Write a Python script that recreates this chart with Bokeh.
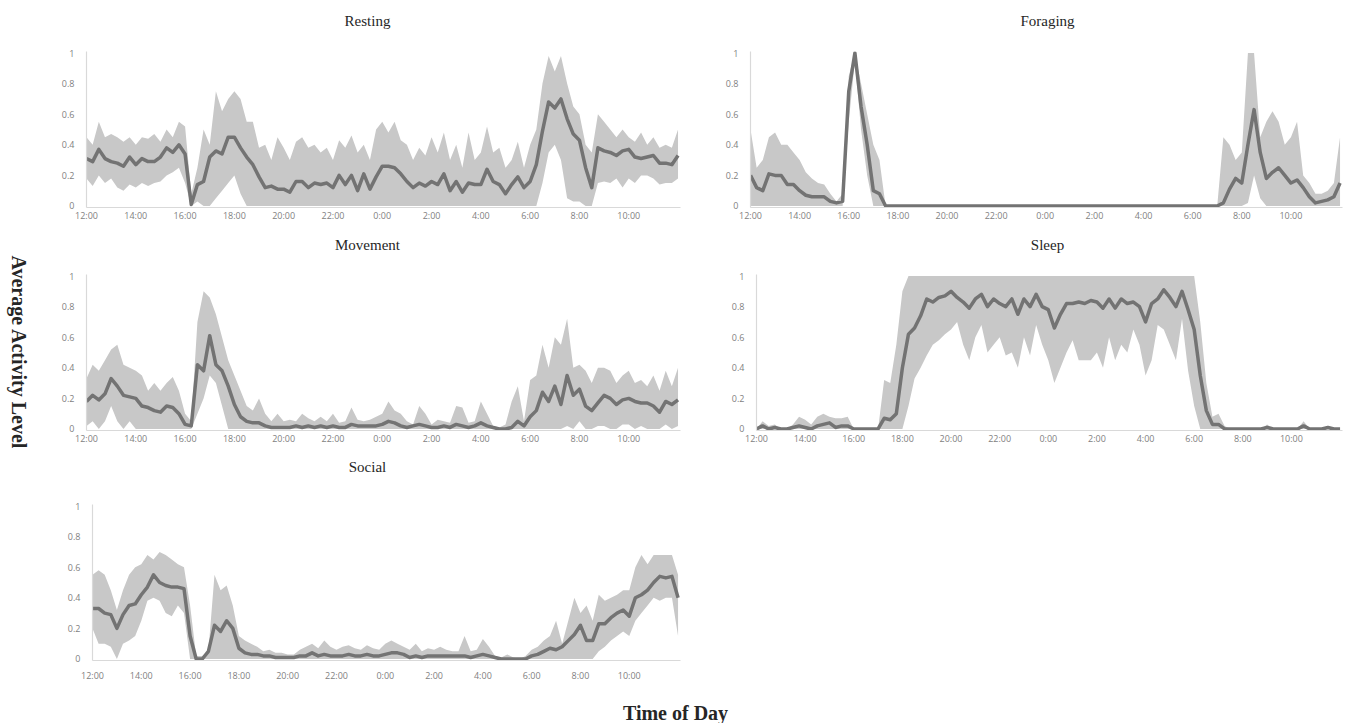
from math import pi
from bokeh.plotting import figure
from bokeh.layouts import row, column
from bokeh.models import FixedTicker, Range1d
from bokeh.core.properties import value
from bokeh.embed import file_html
from bokeh.resources import INLINE

# sampling grid: hours after 12:00 (every 15 minutes)
TIME_H = [i * 0.25 for i in range(97)]

X_TICKS = [0, 2, 4, 6, 8, 10, 12, 14, 16, 18, 20, 22]
X_TICK_LABELS = ["12:00", "14:00", "16:00", "18:00", "20:00", "22:00",
                 "0:00", "2:00", "4:00", "6:00", "8:00", "10:00"]
Y_TICKS = [0, 0.2, 0.4, 0.6, 0.8, 1]
Y_TICK_LABELS = ["0", "0.2", "0.4", "0.6", "0.8", "1"]

PANEL_TITLES = ["Resting", "Foraging", "Movement", "Sleep", "Social"]

RESTING_MEAN = [
    0.31, 0.29, 0.37, 0.31, 0.29, 0.28, 0.26, 0.32, 0.27, 0.31, 0.29, 0.29,
    0.32, 0.38, 0.35, 0.40, 0.34, 0.01, 0.14, 0.16, 0.32, 0.36, 0.34, 0.45,
    0.45, 0.38, 0.32, 0.27, 0.19, 0.12, 0.13, 0.11, 0.11, 0.09, 0.16, 0.16,
    0.12, 0.15, 0.14, 0.15, 0.12, 0.20, 0.14, 0.20, 0.10, 0.21, 0.11, 0.19,
    0.26, 0.26, 0.25, 0.21, 0.16, 0.12, 0.15, 0.13, 0.16, 0.14, 0.21, 0.10,
    0.16, 0.09, 0.15, 0.14, 0.14, 0.24, 0.16, 0.14, 0.08, 0.14, 0.19, 0.12,
    0.16, 0.27, 0.49, 0.68, 0.64, 0.70, 0.57, 0.47, 0.43, 0.25, 0.12, 0.38,
    0.36, 0.35, 0.33, 0.36, 0.37, 0.32, 0.31, 0.32, 0.33, 0.28, 0.28, 0.27,
    0.33]
RESTING_UP = [
    0.45, 0.40, 0.55, 0.45, 0.47, 0.45, 0.42, 0.45, 0.40, 0.45, 0.44, 0.47,
    0.42, 0.50, 0.45, 0.55, 0.52, 0.08, 0.25, 0.50, 0.40, 0.75, 0.62, 0.70,
    0.75, 0.70, 0.55, 0.55, 0.38, 0.40, 0.30, 0.45, 0.38, 0.30, 0.42, 0.45,
    0.38, 0.40, 0.35, 0.38, 0.30, 0.43, 0.38, 0.46, 0.35, 0.40, 0.30, 0.50,
    0.55, 0.48, 0.55, 0.43, 0.40, 0.30, 0.38, 0.33, 0.45, 0.35, 0.48, 0.30,
    0.40, 0.25, 0.48, 0.30, 0.35, 0.52, 0.35, 0.38, 0.25, 0.30, 0.42, 0.25,
    0.40, 0.50, 0.80, 0.98, 0.88, 0.98, 0.80, 0.65, 0.60, 0.40, 0.35, 0.60,
    0.55, 0.50, 0.45, 0.50, 0.45, 0.42, 0.48, 0.40, 0.45, 0.38, 0.40, 0.38,
    0.50]
RESTING_LO = [
    0.18, 0.13, 0.20, 0.15, 0.18, 0.12, 0.10, 0.14, 0.12, 0.15, 0.13, 0.15,
    0.16, 0.20, 0.22, 0.25, 0.15, 0.00, 0.03, 0.00, 0.00, 0.05, 0.10, 0.15,
    0.20, 0.08, 0.00, 0.00, 0.00, 0.00, 0.00, 0.00, 0.00, 0.00, 0.00, 0.00,
    0.00, 0.00, 0.00, 0.00, 0.00, 0.00, 0.00, 0.00, 0.00, 0.00, 0.00, 0.00,
    0.00, 0.00, 0.00, 0.00, 0.00, 0.00, 0.00, 0.00, 0.00, 0.00, 0.00, 0.00,
    0.00, 0.00, 0.00, 0.00, 0.00, 0.00, 0.00, 0.00, 0.00, 0.00, 0.00, 0.00,
    0.00, 0.00, 0.15, 0.35, 0.40, 0.30, 0.05, 0.03, 0.03, 0.00, 0.00, 0.15,
    0.16, 0.15, 0.18, 0.12, 0.18, 0.15, 0.20, 0.20, 0.18, 0.14, 0.15, 0.15,
    0.18]

FORAGING_MEAN = [
    0.20, 0.12, 0.10, 0.21, 0.20, 0.20, 0.14, 0.14, 0.10, 0.07, 0.06, 0.06,
    0.06, 0.03, 0.02, 0.03, 0.75, 1.00, 0.65, 0.40, 0.10, 0.08, 0.00, 0.00,
    0.00, 0.00, 0.00, 0.00, 0.00, 0.00, 0.00, 0.00, 0.00, 0.00, 0.00, 0.00,
    0.00, 0.00, 0.00, 0.00, 0.00, 0.00, 0.00, 0.00, 0.00, 0.00, 0.00, 0.00,
    0.00, 0.00, 0.00, 0.00, 0.00, 0.00, 0.00, 0.00, 0.00, 0.00, 0.00, 0.00,
    0.00, 0.00, 0.00, 0.00, 0.00, 0.00, 0.00, 0.00, 0.00, 0.00, 0.00, 0.00,
    0.00, 0.00, 0.00, 0.00, 0.00, 0.02, 0.11, 0.18, 0.15, 0.40, 0.63, 0.35,
    0.18, 0.22, 0.25, 0.20, 0.15, 0.17, 0.12, 0.06, 0.02, 0.03, 0.04, 0.06,
    0.15]
FORAGING_UP = [
    0.50, 0.25, 0.30, 0.45, 0.48, 0.40, 0.40, 0.35, 0.30, 0.22, 0.18, 0.15,
    0.14, 0.08, 0.03, 0.08, 0.85, 1.00, 0.80, 0.60, 0.40, 0.30, 0.00, 0.00,
    0.00, 0.00, 0.00, 0.00, 0.00, 0.00, 0.00, 0.00, 0.00, 0.00, 0.00, 0.00,
    0.00, 0.00, 0.00, 0.00, 0.00, 0.00, 0.00, 0.00, 0.00, 0.00, 0.00, 0.00,
    0.00, 0.00, 0.00, 0.00, 0.00, 0.00, 0.00, 0.00, 0.00, 0.00, 0.00, 0.00,
    0.00, 0.00, 0.00, 0.00, 0.00, 0.00, 0.00, 0.00, 0.00, 0.00, 0.00, 0.00,
    0.00, 0.00, 0.00, 0.00, 0.00, 0.45, 0.40, 0.30, 0.35, 1.00, 1.00, 0.45,
    0.55, 0.62, 0.55, 0.40, 0.45, 0.55, 0.20, 0.15, 0.08, 0.08, 0.10, 0.15,
    0.45]
FORAGING_LO = [
    0.00, 0.00, 0.00, 0.00, 0.00, 0.00, 0.00, 0.00, 0.00, 0.00, 0.00, 0.00,
    0.00, 0.00, 0.00, 0.00, 0.55, 0.95, 0.50, 0.20, 0.00, 0.00, 0.00, 0.00,
    0.00, 0.00, 0.00, 0.00, 0.00, 0.00, 0.00, 0.00, 0.00, 0.00, 0.00, 0.00,
    0.00, 0.00, 0.00, 0.00, 0.00, 0.00, 0.00, 0.00, 0.00, 0.00, 0.00, 0.00,
    0.00, 0.00, 0.00, 0.00, 0.00, 0.00, 0.00, 0.00, 0.00, 0.00, 0.00, 0.00,
    0.00, 0.00, 0.00, 0.00, 0.00, 0.00, 0.00, 0.00, 0.00, 0.00, 0.00, 0.00,
    0.00, 0.00, 0.00, 0.00, 0.00, 0.00, 0.00, 0.00, 0.00, 0.02, 0.20, 0.05,
    0.00, 0.00, 0.00, 0.00, 0.00, 0.00, 0.00, 0.00, 0.00, 0.00, 0.00, 0.00,
    0.00]

MOVEMENT_MEAN = [
    0.18, 0.22, 0.19, 0.23, 0.33, 0.28, 0.22, 0.21, 0.20, 0.15, 0.14, 0.12,
    0.11, 0.15, 0.14, 0.10, 0.03, 0.02, 0.42, 0.38, 0.61, 0.42, 0.38, 0.28,
    0.16, 0.08, 0.05, 0.04, 0.04, 0.02, 0.01, 0.01, 0.01, 0.01, 0.02, 0.01,
    0.02, 0.01, 0.02, 0.01, 0.02, 0.01, 0.01, 0.03, 0.02, 0.02, 0.02, 0.02,
    0.03, 0.05, 0.04, 0.02, 0.01, 0.02, 0.03, 0.02, 0.01, 0.01, 0.02, 0.01,
    0.03, 0.02, 0.01, 0.02, 0.04, 0.02, 0.01, 0.00, 0.00, 0.01, 0.05, 0.02,
    0.08, 0.12, 0.24, 0.18, 0.28, 0.16, 0.35, 0.22, 0.26, 0.15, 0.12, 0.17,
    0.22, 0.20, 0.16, 0.19, 0.20, 0.18, 0.17, 0.17, 0.15, 0.11, 0.18, 0.16,
    0.19]
MOVEMENT_UP = [
    0.33, 0.42, 0.38, 0.45, 0.52, 0.55, 0.42, 0.40, 0.38, 0.35, 0.25, 0.30,
    0.25, 0.30, 0.34, 0.25, 0.10, 0.05, 0.70, 0.90, 0.86, 0.75, 0.60, 0.45,
    0.35, 0.25, 0.15, 0.12, 0.20, 0.10, 0.05, 0.10, 0.05, 0.06, 0.05, 0.10,
    0.07, 0.05, 0.08, 0.05, 0.10, 0.04, 0.05, 0.14, 0.06, 0.05, 0.06, 0.08,
    0.10, 0.18, 0.12, 0.10, 0.05, 0.03, 0.15, 0.10, 0.03, 0.06, 0.05, 0.04,
    0.15, 0.14, 0.04, 0.05, 0.18, 0.10, 0.02, 0.01, 0.03, 0.18, 0.28, 0.05,
    0.32, 0.35, 0.55, 0.40, 0.60, 0.55, 0.72, 0.40, 0.42, 0.38, 0.30, 0.40,
    0.40, 0.38, 0.30, 0.35, 0.38, 0.30, 0.32, 0.28, 0.35, 0.25, 0.38, 0.28,
    0.40]
MOVEMENT_LO = [
    0.02, 0.05, 0.00, 0.05, 0.15, 0.05, 0.00, 0.05, 0.00, 0.00, 0.00, 0.00,
    0.00, 0.00, 0.00, 0.00, 0.00, 0.00, 0.10, 0.20, 0.35, 0.30, 0.15, 0.00,
    0.00, 0.00, 0.00, 0.00, 0.00, 0.00, 0.00, 0.00, 0.00, 0.00, 0.00, 0.00,
    0.00, 0.00, 0.00, 0.00, 0.00, 0.00, 0.00, 0.00, 0.00, 0.00, 0.00, 0.00,
    0.00, 0.00, 0.00, 0.00, 0.00, 0.00, 0.00, 0.00, 0.00, 0.00, 0.00, 0.00,
    0.00, 0.00, 0.00, 0.00, 0.00, 0.00, 0.00, 0.00, 0.00, 0.00, 0.00, 0.00,
    0.00, 0.00, 0.00, 0.00, 0.00, 0.00, 0.02, 0.00, 0.05, 0.00, 0.00, 0.02,
    0.02, 0.00, 0.00, 0.03, 0.03, 0.00, 0.02, 0.00, 0.00, 0.00, 0.03, 0.00,
    0.02]

SLEEP_MEAN = [
    0.00, 0.02, 0.00, 0.01, 0.00, 0.00, 0.01, 0.02, 0.01, 0.00, 0.02, 0.03,
    0.04, 0.01, 0.02, 0.02, 0.00, 0.00, 0.00, 0.00, 0.00, 0.07, 0.06, 0.10,
    0.40, 0.62, 0.66, 0.74, 0.85, 0.83, 0.86, 0.87, 0.90, 0.86, 0.83, 0.79,
    0.85, 0.88, 0.80, 0.85, 0.82, 0.80, 0.85, 0.75, 0.85, 0.80, 0.88, 0.80,
    0.78, 0.66, 0.75, 0.82, 0.82, 0.83, 0.82, 0.84, 0.83, 0.79, 0.85, 0.79,
    0.85, 0.82, 0.83, 0.80, 0.70, 0.82, 0.85, 0.91, 0.86, 0.80, 0.90, 0.78,
    0.65, 0.35, 0.12, 0.03, 0.03, 0.00, 0.00, 0.00, 0.00, 0.00, 0.00, 0.00,
    0.01, 0.00, 0.00, 0.00, 0.00, 0.00, 0.02, 0.00, 0.00, 0.00, 0.01, 0.00,
    0.00]
SLEEP_UP = [
    0.00, 0.05, 0.02, 0.03, 0.00, 0.00, 0.03, 0.08, 0.06, 0.03, 0.08, 0.10,
    0.08, 0.07, 0.07, 0.08, 0.00, 0.00, 0.00, 0.00, 0.00, 0.32, 0.30, 0.55,
    0.90, 1.00, 1.00, 1.00, 1.00, 1.00, 1.00, 1.00, 1.00, 1.00, 1.00, 1.00,
    1.00, 1.00, 1.00, 1.00, 1.00, 1.00, 1.00, 1.00, 1.00, 1.00, 1.00, 1.00,
    1.00, 1.00, 1.00, 1.00, 1.00, 1.00, 1.00, 1.00, 1.00, 1.00, 1.00, 1.00,
    1.00, 1.00, 1.00, 1.00, 1.00, 1.00, 1.00, 1.00, 1.00, 1.00, 1.00, 1.00,
    1.00, 0.70, 0.30, 0.08, 0.10, 0.02, 0.00, 0.00, 0.00, 0.00, 0.00, 0.00,
    0.03, 0.00, 0.00, 0.00, 0.00, 0.00, 0.05, 0.00, 0.00, 0.00, 0.02, 0.00,
    0.00]
SLEEP_LO = [
    0.00, 0.00, 0.00, 0.00, 0.00, 0.00, 0.00, 0.00, 0.00, 0.00, 0.00, 0.00,
    0.00, 0.00, 0.00, 0.00, 0.00, 0.00, 0.00, 0.00, 0.00, 0.00, 0.00, 0.00,
    0.00, 0.15, 0.33, 0.40, 0.48, 0.55, 0.58, 0.62, 0.65, 0.70, 0.55, 0.45,
    0.60, 0.68, 0.50, 0.55, 0.60, 0.48, 0.50, 0.40, 0.60, 0.48, 0.68, 0.55,
    0.45, 0.30, 0.40, 0.50, 0.58, 0.45, 0.45, 0.45, 0.50, 0.40, 0.60, 0.45,
    0.55, 0.50, 0.65, 0.55, 0.35, 0.45, 0.68, 0.65, 0.55, 0.45, 0.72, 0.38,
    0.15, 0.00, 0.00, 0.00, 0.00, 0.00, 0.00, 0.00, 0.00, 0.00, 0.00, 0.00,
    0.00, 0.00, 0.00, 0.00, 0.00, 0.00, 0.00, 0.00, 0.00, 0.00, 0.00, 0.00,
    0.00]

SOCIAL_MEAN = [
    0.33, 0.33, 0.30, 0.29, 0.20, 0.29, 0.35, 0.36, 0.42, 0.47, 0.55, 0.50,
    0.48, 0.47, 0.47, 0.46, 0.15, 0.00, 0.00, 0.05, 0.22, 0.18, 0.25, 0.20,
    0.07, 0.04, 0.03, 0.03, 0.02, 0.02, 0.01, 0.01, 0.01, 0.01, 0.02, 0.02,
    0.04, 0.02, 0.03, 0.02, 0.02, 0.02, 0.03, 0.02, 0.02, 0.03, 0.02, 0.02,
    0.03, 0.04, 0.04, 0.03, 0.01, 0.02, 0.01, 0.02, 0.02, 0.02, 0.02, 0.02,
    0.02, 0.02, 0.01, 0.02, 0.03, 0.02, 0.01, 0.00, 0.00, 0.00, 0.00, 0.00,
    0.02, 0.03, 0.05, 0.07, 0.06, 0.08, 0.12, 0.16, 0.22, 0.12, 0.12, 0.23,
    0.23, 0.27, 0.30, 0.32, 0.28, 0.40, 0.42, 0.45, 0.50, 0.54, 0.53, 0.54,
    0.40]
SOCIAL_UP = [
    0.55, 0.58, 0.55, 0.45, 0.32, 0.45, 0.55, 0.60, 0.62, 0.68, 0.65, 0.70,
    0.68, 0.65, 0.62, 0.60, 0.35, 0.02, 0.02, 0.05, 0.55, 0.45, 0.48, 0.35,
    0.15, 0.12, 0.10, 0.08, 0.05, 0.06, 0.04, 0.04, 0.03, 0.03, 0.06, 0.08,
    0.10, 0.07, 0.12, 0.08, 0.06, 0.08, 0.09, 0.07, 0.06, 0.09, 0.07, 0.06,
    0.10, 0.12, 0.10, 0.08, 0.06, 0.10, 0.05, 0.07, 0.06, 0.08, 0.06, 0.05,
    0.05, 0.15, 0.05, 0.06, 0.13, 0.08, 0.02, 0.01, 0.03, 0.01, 0.00, 0.02,
    0.06, 0.08, 0.12, 0.15, 0.25, 0.10, 0.25, 0.40, 0.30, 0.35, 0.25, 0.42,
    0.38, 0.40, 0.42, 0.45, 0.45, 0.60, 0.68, 0.62, 0.68, 0.68, 0.68, 0.68,
    0.55]
SOCIAL_LO = [
    0.20, 0.10, 0.10, 0.08, 0.00, 0.10, 0.12, 0.15, 0.25, 0.38, 0.40, 0.38,
    0.30, 0.28, 0.35, 0.30, 0.00, 0.00, 0.00, 0.00, 0.00, 0.00, 0.00, 0.00,
    0.00, 0.00, 0.00, 0.00, 0.00, 0.00, 0.00, 0.00, 0.00, 0.00, 0.00, 0.00,
    0.00, 0.00, 0.00, 0.00, 0.00, 0.00, 0.00, 0.00, 0.00, 0.00, 0.00, 0.00,
    0.00, 0.00, 0.00, 0.00, 0.00, 0.00, 0.00, 0.00, 0.00, 0.00, 0.00, 0.00,
    0.00, 0.00, 0.00, 0.00, 0.00, 0.00, 0.00, 0.00, 0.00, 0.00, 0.00, 0.00,
    0.00, 0.00, 0.00, 0.00, 0.00, 0.00, 0.00, 0.00, 0.00, 0.00, 0.00, 0.05,
    0.08, 0.12, 0.15, 0.18, 0.15, 0.25, 0.30, 0.35, 0.40, 0.38, 0.40, 0.40,
    0.15]

BAND_COLOR = "#c8c8c8"
LINE_COLOR = "#737373"
AXIS_COLOR = "#d9d9d9"
TICK_COLOR = "#7f7f7f"
TITLE_COLOR = "#262626"
LEFT_COL_W = 40
RIGHT_W = 1310
# borders shared by every figure stacked directly in the right-hand column
COL_BL, COL_BR = 52, 36


def panel(mean, lo, up, width, height, bl, br, bt, bb, x_standoff=1):
    p = figure(width=width, height=height, x_range=Range1d(0, 24.1),
               y_range=Range1d(-0.01, 1.01), output_backend="svg",
               toolbar_location=None, min_border_left=bl, min_border_right=br,
               min_border_top=bt, min_border_bottom=bb)
    p.outline_line_color = None
    p.grid.visible = False
    p.background_fill_color = "white"
    p.border_fill_color = "white"

    p.xaxis.ticker = FixedTicker(ticks=X_TICKS)
    p.xaxis.major_label_overrides = dict(zip(X_TICKS, X_TICK_LABELS))
    p.yaxis.ticker = FixedTicker(ticks=Y_TICKS)
    p.yaxis.major_label_overrides = dict(zip(Y_TICKS, Y_TICK_LABELS))
    for ax in (p.xaxis, p.yaxis):
        ax.axis_line_color = AXIS_COLOR
        ax.axis_line_width = 1.2
        ax.major_tick_line_color = None
        ax.minor_tick_line_color = None
        ax.major_tick_out = 0
        ax.major_tick_in = 0
        ax.minor_tick_out = 0
        ax.minor_tick_in = 0
        ax.major_label_text_color = TICK_COLOR
        ax.major_label_text_font = "Open Sans"
        ax.major_label_text_font_size = "9px"
    p.xaxis.major_label_standoff = x_standoff
    p.yaxis.major_label_standoff = 12

    p.varea(x=TIME_H, y1=lo, y2=up, fill_color=BAND_COLOR, fill_alpha=1.0)
    p.line(TIME_H, mean, line_color=LINE_COLOR, line_width=3.5,
           line_join="round")
    return p


def text_strip(width, height, xs, ys, texts, size, bold=False, angle=0.0,
               bl=0, br=0):
    # x data units equal pixels measured from the strip's left edge
    s = figure(width=width, height=height, x_range=Range1d(bl, width - br),
               y_range=Range1d(0, height), output_backend="svg",
               toolbar_location=None, min_border=0, min_border_left=bl,
               min_border_right=br, min_border_top=0, min_border_bottom=0,
               x_axis_type=None, y_axis_type=None)
    s.outline_line_color = None
    s.grid.visible = False
    s.text(x=xs, y=ys, text=texts, angle=angle, text_align="center",
           text_baseline="middle", text_font=value("Liberation Serif"),
           text_font_style="bold" if bold else "normal",
           text_font_size=size, text_color=TITLE_COLOR)
    return s


# panel titles (strips above each row)
strip1 = text_strip(RIGHT_W, 30, [327, 1007], [10, 10], PANEL_TITLES[0:2],
                    "15px", bl=COL_BL, br=COL_BR)
strip2 = text_strip(RIGHT_W, 26, [327, 1007], [10, 10], PANEL_TITLES[2:4],
                    "15px", bl=COL_BL, br=COL_BR)
strip3 = text_strip(RIGHT_W, 32, [327], [18], PANEL_TITLES[4:5], "15px",
                    bl=COL_BL, br=COL_BR)

rest = panel(RESTING_MEAN, RESTING_LO, RESTING_UP, 676, 198, 46, 36, 21, 21)
forage = panel(FORAGING_MEAN, FORAGING_LO, FORAGING_UP, 634, 198, 34, 8, 21, 21)
move = panel(MOVEMENT_MEAN, MOVEMENT_LO, MOVEMENT_UP, 676, 198, 46, 36, 20, 22)
sleep = panel(SLEEP_MEAN, SLEEP_LO, SLEEP_UP, 634, 198, 40, 8, 20, 22)
social = panel(SOCIAL_MEAN, SOCIAL_LO, SOCIAL_UP, 676, 206, COL_BL, COL_BR,
               20, 30, x_standoff=8)

ylab = text_strip(LEFT_COL_W, 723, [18], [723 - 352],
                  ["Average Activity Level"], "20px", bold=True,
                  angle=-pi / 2)
xlab = text_strip(RIGHT_W, 33, [635], [11], ["Time of Day"], "20px",
                  bold=True, bl=COL_BL, br=COL_BR)

layout = row(ylab, column(strip1, row(rest, forage), strip2,
                          row(move, sleep), strip3, social, xlab))

open("out.html", "w").write(file_html(layout, INLINE))
